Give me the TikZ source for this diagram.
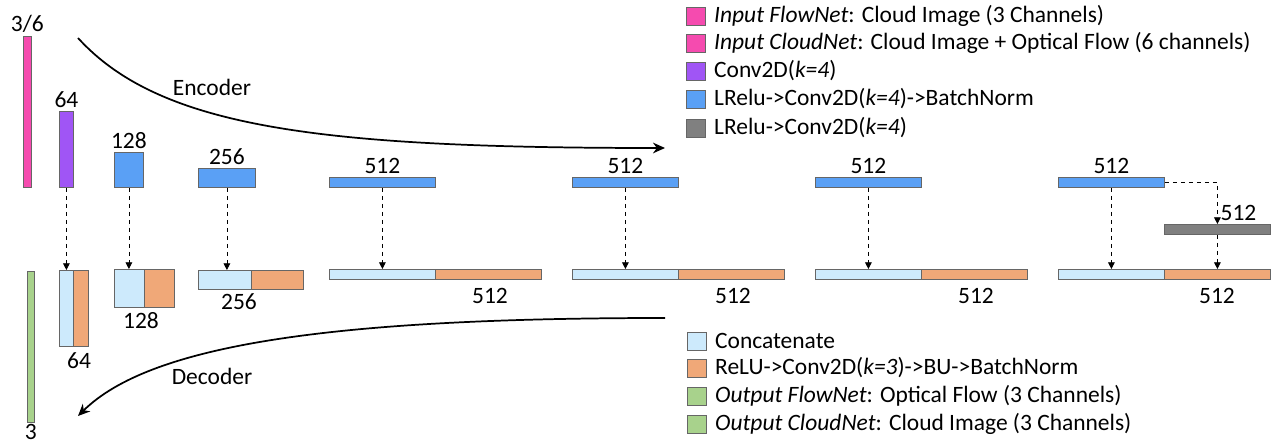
\documentclass[tikz,border=0pt]{standalone}
\usepackage{fontspec}
\setmainfont{Carlito}
\usepackage{xcolor}
\definecolor{InPink}    {RGB}{245,  75, 175}
\definecolor{ConvPurple}{RGB}{160,  85, 245}
\definecolor{EncBlue}   {RGB}{ 90, 160, 245}
\definecolor{LastGray}  {RGB}{128, 128, 128}
\definecolor{CatBlue}   {RGB}{205, 234, 252}
\definecolor{DecOrange} {RGB}{240, 168, 120}
\definecolor{OutGreen}  {RGB}{168, 210, 140}
\usepackage{tikz}
\usetikzlibrary{arrows.meta, positioning}

\begin{document}
\begin{tikzpicture}[
  x=0.75pt, y=-0.75pt,
  blk/.style={draw=black!60, line width=0.6pt, inner sep=0pt, anchor=north west},
  sz/.style 2 args={minimum width=#1*0.75pt, minimum height=#2*0.75pt},
  txt/.style={font=\fontsize{17.6pt}{21pt}\selectfont, inner sep=1pt},
  key/.style={draw=black!60, line width=0.6pt, inner sep=0pt,
              minimum width=19*0.75pt, minimum height=18*0.75pt},
  skip/.style={-{Triangle[length=5pt,width=5pt]}, dashed, line width=0.6pt},
  flow/.style={-{Stealth[length=9pt,width=8pt]}, line width=1.3pt}
]
  \useasboundingbox (0,0) rectangle (1282,445);

  % encoder
  \node[blk, sz={8}{151},  fill=InPink]     (in) at (23,36)  {};
  \node[blk, sz={14}{76},  fill=ConvPurple] (e1) at (59,111) {};
  \node[blk, sz={29}{35},  fill=EncBlue]    (e2) at (114,152) {};
  \node[blk, sz={57}{19},  fill=EncBlue]    (e3) at (198,168) {};
  \node[blk, sz={106}{10}, fill=EncBlue]    (e4) at (329,177) {};
  \node[blk, sz={106}{10}, fill=EncBlue]    (e5) at (572,177) {};
  \node[blk, sz={106}{10}, fill=EncBlue]    (e6) at (815,177) {};
  \node[blk, sz={106}{10}, fill=EncBlue]    (e7) at (1058,177) {};
  \node[blk, sz={106}{10}, fill=LastGray]   (e8) at (1164,224) {};

  \node[txt, above=1.5pt of in] {3/6};
  \node[txt, above=1.5pt of e1] {64};
  \node[txt, above=1.5pt of e2] {128};
  \node[txt, above=1.5pt of e3] {256};
  \node[txt, above=1.5pt of e4] {512};
  \node[txt, above=1.5pt of e5] {512};
  \node[txt, above=1.5pt of e6] {512};
  \node[txt, above=1.5pt of e7] {512};
  \node[txt, anchor=south west] at (1219,222) {512};

  % decoder
  \node[blk, sz={7}{151}, fill=OutGreen] (out) at (27,271) {};
  \node[blk, sz={14}{76},  fill=CatBlue]   (d1a) at (59,270)  {};
  \node[blk, sz={15}{76},  fill=DecOrange] (d1b) at (73,270)  {};
  \node[blk, sz={30}{38},  fill=CatBlue]   (d2a) at (114,269) {};
  \node[blk, sz={30}{38},  fill=DecOrange] (d2b) at (144,269) {};
  \node[blk, sz={53}{19},  fill=CatBlue]   (d3a) at (198,270) {};
  \node[blk, sz={52}{19},  fill=DecOrange] (d3b) at (251,270) {};
  \node[blk, sz={106}{10}, fill=CatBlue]   (d4a) at (329,269) {};
  \node[blk, sz={106}{10}, fill=DecOrange] (d4b) at (435,269) {};
  \node[blk, sz={106}{10}, fill=CatBlue]   (d5a) at (572,269) {};
  \node[blk, sz={106}{10}, fill=DecOrange] (d5b) at (678,269) {};
  \node[blk, sz={106}{10}, fill=CatBlue]   (d6a) at (815,269) {};
  \node[blk, sz={106}{10}, fill=DecOrange] (d6b) at (921,269) {};
  \node[blk, sz={106}{10}, fill=CatBlue]   (d7a) at (1058,269) {};
  \node[blk, sz={106}{10}, fill=DecOrange] (d7b) at (1164,269) {};

  \node[txt, below=0pt of out] {3};
  \node[txt] at (79,361)  {64};
  \node[txt] at (141,321) {128};
  \node[txt] at (239,302) {256};
  \node[txt] at (490,296) {512};
  \node[txt] at (733,296) {512};
  \node[txt] at (976,296) {512};
  \node[txt] at (1217,296) {512};

  % skip connections
  \draw[skip] (e1.south) -- (e1.south |- d1a.north);
  \draw[skip] (e2.south) -- (e2.south |- d2a.north);
  \draw[skip] (e3.south) -- (e3.south |- d3a.north);
  \draw[skip] (e4.south) -- (d4a.north);
  \draw[skip] (e5.south) -- (d5a.north);
  \draw[skip] (e6.south) -- (d6a.north);
  \draw[skip] (e7.south) -- (d7a.north);
  \draw[skip] (e7.east) -| (e8.north);
  \draw[skip] (e8.south) -- (d7b.north);

  % encoder / decoder arrows
  \coordinate (encS) at (78,38);
  \coordinate (encE) at (665,148);
  \coordinate (decS) at (665,318);
  \coordinate (decE) at (78,416);
  \draw[flow] (encS) .. controls (160,128) and (320,148) .. (encE);
  \draw[flow] (decS) .. controls (330,318) and (150,345) .. (decE);
  \node[txt] (enc) at (212,87)  {Encoder};
  \node[txt] (dec) at (212,376) {Decoder};

  % legend
  \node[key, fill=InPink]     (k1) at (696,16)  {};
  \node[key, fill=InPink]     (k2) at (696,43)  {};
  \node[key, fill=ConvPurple] (k3) at (696,71)  {};
  \node[key, fill=EncBlue]    (k4) at (696,99)  {};
  \node[key, fill=LastGray]   (k5) at (696,128) {};
  \node[txt, right=5pt of k1] {\textit{Input FlowNet}: Cloud Image (3 Channels)};
  \node[txt, right=5pt of k2] {\textit{Input CloudNet}: Cloud Image + Optical Flow (6 channels)};
  \node[txt, right=5pt of k3] {Conv2D(\textit{k=4})};
  \node[txt, right=5pt of k4] {LRelu->Conv2D(\textit{k=4})->BatchNorm};
  \node[txt, right=5pt of k5] {LRelu->Conv2D(\textit{k=4})};

  \node[key, fill=CatBlue]    (k6) at (697,341) {};
  \node[key, fill=DecOrange]  (k7) at (697,368) {};
  \node[key, fill=OutGreen]   (k8) at (697,396) {};
  \node[key, fill=OutGreen]   (k9) at (697,424) {};
  \node[txt, right=5pt of k6] {Concatenate};
  \node[txt, right=5pt of k7] {ReLU->Conv2D(\textit{k=3})->BU->BatchNorm};
  \node[txt, right=5pt of k8] {\textit{Output FlowNet}: Optical Flow (3 Channels)};
  \node[txt, right=5pt of k9] {\textit{Output CloudNet}: Cloud Image (3 Channels)};
\end{tikzpicture}
\end{document}
